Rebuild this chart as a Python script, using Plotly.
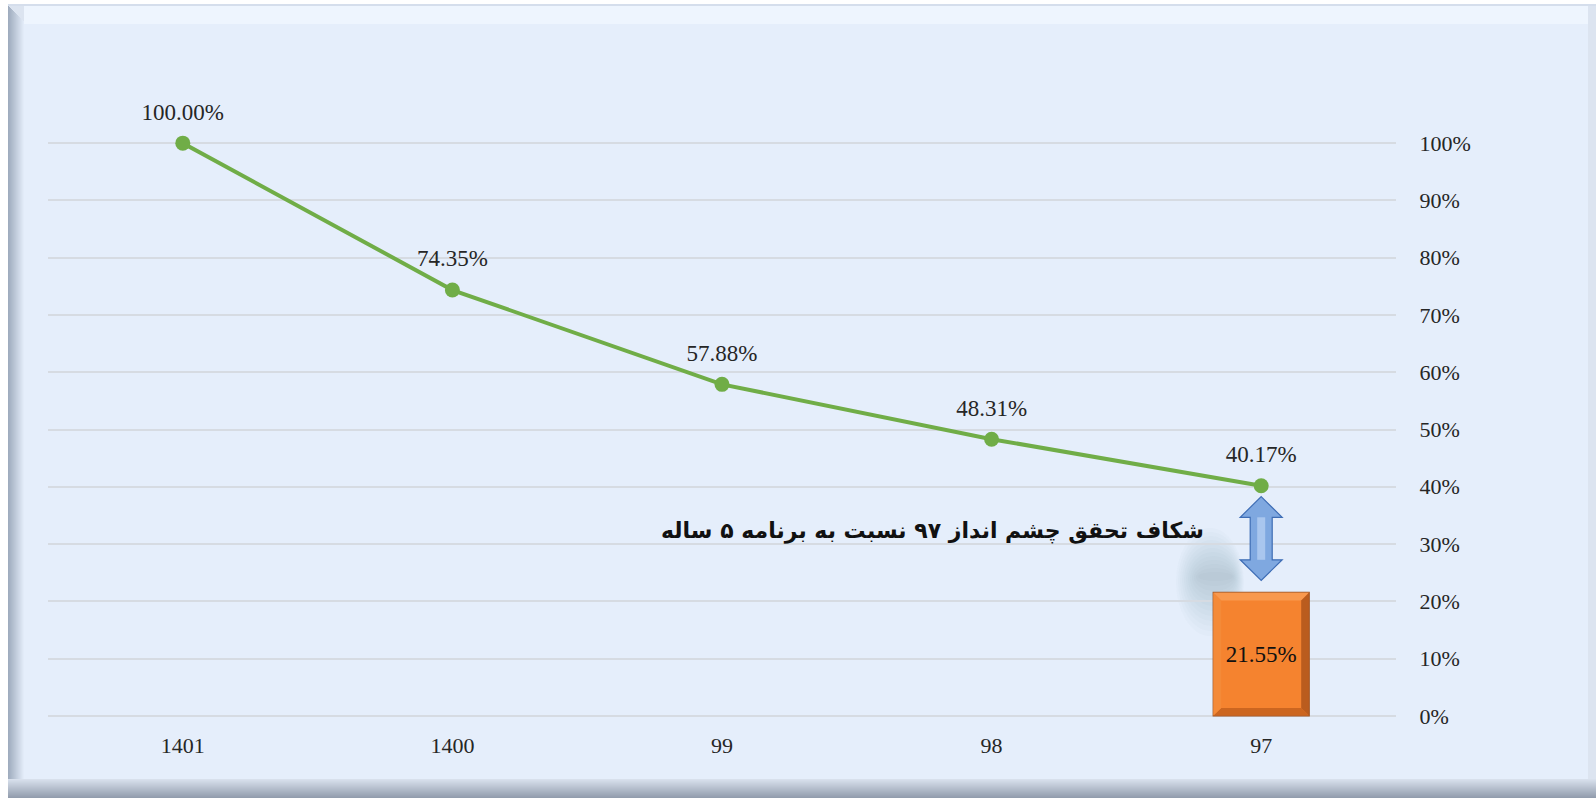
import plotly.graph_objects as go

# Series data
years = ["1401", "1400", "99", "98", "97"]
achievement = [1.0, 0.7435, 0.5788, 0.4831, 0.4017]
gap_year = ["97"]
gap_value = [0.2155]
gap_label = "شکاف تحقق چشم انداز ۹۷ نسبت به برنامه ۵ ساله"
y_ticks = [i / 10 for i in range(11)]
y_tick_text = [f"{i * 10}%" for i in range(11)]

W, H = 1596, 798
L, R, T, B = 48, 200, 142, 81
PW, PH = W - L - R, H - T - B

SERIF = "Liberation Serif, Times New Roman, serif"
BG = "#E5EEFB"
GREEN = "#70AD47"
BAR_W = 0.356


def px(x):
    return (x - L) / PW


def py(y):
    return (H - B - y) / PH


def mix(c1, c2, t):
    a = [int(c1[i:i + 2], 16) for i in (1, 3, 5)]
    b = [int(c2[i:i + 2], 16) for i in (1, 3, 5)]
    return "#" + "".join(f"{round(a[k] + (b[k] - a[k]) * t):02X}" for k in range(3))


fig = go.Figure()

# Gap bar
fig.add_trace(go.Bar(
    x=gap_year, y=gap_value, width=BAR_W,
    marker=dict(color="#F5832F", line=dict(color="#9A5324", width=1.2)),
    text=[f"{v * 100:.2f}%" for v in gap_value],
    textposition="inside", insidetextanchor="middle",
    textfont=dict(family=SERIF, size=23, color="#111111"),
    hoverinfo="skip", showlegend=False,
))

# Achievement line
fig.add_trace(go.Scatter(
    x=years, y=achievement, mode="lines+markers",
    line=dict(color=GREEN, width=4),
    marker=dict(color=GREEN, size=15),
    cliponaxis=False, showlegend=False,
))
# Value labels (invisible larger marker sets the label offset)
fig.add_trace(go.Scatter(
    x=years, y=achievement, mode="markers+text",
    marker=dict(color="rgba(0,0,0,0)", size=27),
    text=[f"{v * 100:.2f}%" for v in achievement],
    textposition="top center",
    textfont=dict(family=SERIF, size=23, color="#262626"),
    cliponaxis=False, showlegend=False, hoverinfo="skip",
))

shapes = []
# Frame: white page, bevelled light-blue panel
shapes.append(dict(type="rect", xref="paper", yref="paper", layer="below",
                   x0=px(8), x1=px(1596), y0=py(798), y1=py(5),
                   fillcolor="#DCE4F0", line=dict(width=0)))
# bottom bevel gradient
for i in range(20):
    shapes.append(dict(type="rect", xref="paper", yref="paper", layer="below",
                       x0=px(8), x1=px(1596), y0=py(779 + i + 1), y1=py(779 + i),
                       fillcolor=mix("#D8E0EC", "#8E99AA", i / 19), line=dict(width=0)))
# left bevel gradient
for i in range(16):
    shapes.append(dict(type="rect", xref="paper", yref="paper", layer="below",
                       x0=px(8 + i), x1=px(9 + i), y0=py(779), y1=py(6 + i),
                       fillcolor=mix("#9FACBE", "#E2EBF8", i / 15), line=dict(width=0)))
# top bevel
shapes.append(dict(type="rect", xref="paper", yref="paper", layer="below",
                   x0=px(24), x1=px(1588), y0=py(24), y1=py(6),
                   fillcolor="#EEF5FE", line=dict(width=0)))
shapes.append(dict(type="rect", xref="paper", yref="paper", layer="below",
                   x0=px(8), x1=px(1596), y0=py(6), y1=py(4),
                   fillcolor="#D5DEEC", line=dict(width=0)))
# panel face
shapes.append(dict(type="rect", xref="paper", yref="paper", layer="below",
                   x0=px(24), x1=px(1588), y0=py(779), y1=py(24),
                   fillcolor=BG, line=dict(width=0)))

# Soft shadow to the left of the arrow
for i in range(12):
    shapes.append(dict(type="circle", xref="paper", yref="paper", layer="below",
                       x0=px(1176 + i * 2), x1=px(1244 - i), y0=py(636 - i * 5), y1=py(528 + i * 4),
                       fillcolor="rgba(70,80,100,0.018)", line=dict(width=0)))

# Bevel edges of the gap bar
hw = BAR_W * PW / len(years) / 2
d = 8
dy = d / PH
top = gap_value[0]
bev = [
    ("#F99B52", [(-hw, top), (hw, top), (hw - d, top - dy), (-hw + d, top - dy)]),
    ("#C8631F", [(-hw, 0), (hw, 0), (hw - d, dy), (-hw + d, dy)]),
    ("#F48B3A", [(-hw, 0), (-hw, top), (-hw + d, top - dy), (-hw + d, dy)]),
    ("#B4581D", [(hw, 0), (hw, top), (hw - d, top - dy), (hw - d, dy)]),
]
for col, pts in bev:
    p = "M " + " L ".join(f"{x:.2f},{y:.5f}" for x, y in pts) + " Z"
    shapes.append(dict(type="path", xref="x", yref="y", xsizemode="pixel",
                       xanchor=len(years) - 1, path=p,
                       fillcolor=col, line=dict(width=0), opacity=0.9))

# Double-headed arrow between the 97 point and the gap bar
top_tip = achievement[-1] - 0.019
bot_tip = gap_value[0] + 0.021
head = 0.036
ahw, asw = 21, 11
path = (f"M 0,{top_tip} L {ahw},{top_tip - head} L {asw},{top_tip - head} "
        f"L {asw},{bot_tip + head} L {ahw},{bot_tip + head} L 0,{bot_tip} "
        f"L {-ahw},{bot_tip + head} L {-asw},{bot_tip + head} "
        f"L {-asw},{top_tip - head} L {-ahw},{top_tip - head} Z")
shapes.append(dict(type="path", xref="x", yref="y", xsizemode="pixel",
                   xanchor=len(years) - 1, path=path,
                   fillcolor="#7FA8E0", line=dict(color="#3E6DB5", width=1.2)))
inner = (f"M {-4},{top_tip - head} L 4,{top_tip - head} "
         f"L 4,{bot_tip + head} L {-4},{bot_tip + head} Z")
shapes.append(dict(type="path", xref="x", yref="y", xsizemode="pixel",
                   xanchor=len(years) - 1, path=inner,
                   fillcolor="#A9C6EE", line=dict(width=0)))

fig.update_layout(
    width=W, height=H,
    margin=dict(l=L, r=R, t=T, b=B),
    paper_bgcolor="white",
    plot_bgcolor=BG,
    barmode="overlay",
    shapes=shapes,
    showlegend=False,
    xaxis=dict(
        type="category", categoryorder="array", categoryarray=years,
        range=[-0.5, len(years) - 0.5],
        showgrid=False, zeroline=False, showline=False,
        ticks="outside", ticklen=9, tickcolor="rgba(0,0,0,0)",
        tickfont=dict(family=SERIF, size=22, color="#262626"),
    ),
    yaxis=dict(
        side="right", range=[-0.002, 1.002],
        tickvals=y_ticks, ticktext=y_tick_text,
        showgrid=True, gridcolor="#D6DBE2", gridwidth=1.5,
        zeroline=False, showline=False,
        ticks="outside", ticklen=18, tickcolor="rgba(0,0,0,0)",
        tickfont=dict(family=SERIF, size=22, color="#262626"),
    ),
    annotations=[dict(
        x=len(years) - 1, xref="x", y=0.322, yref="y",
        text=f"<b>{gap_label}</b>", showarrow=False,
        xanchor="right", yanchor="middle", xshift=-55,
        font=dict(family="DejaVu Sans", size=22, color="#111111"),
    )],
)

fig.write_html("out.html")
